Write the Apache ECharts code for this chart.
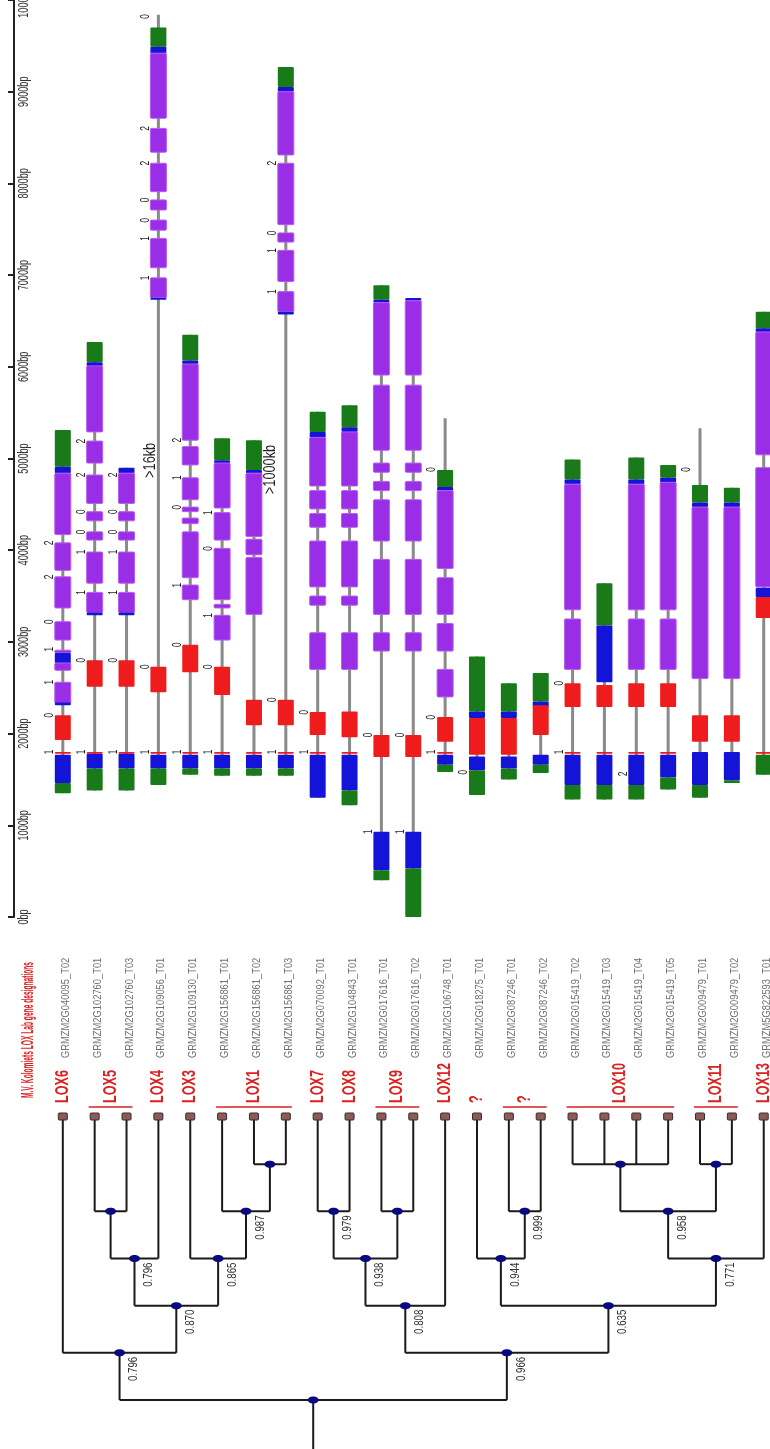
<!DOCTYPE html>
<html><head><meta charset="utf-8">
<script src="https://cdn.jsdelivr.net/npm/echarts@6/dist/echarts.min.js"></script>
<style>html,body{margin:0;padding:0;background:#fff}#c{width:770px;height:1449px}</style>
</head><body><div id="c"></div>
<script>
// Transcript order (left to right), shared by the gene models and the tree leaves
const transcripts = [
  'GRMZM2G040095_T02','GRMZM2G102760_T01','GRMZM2G102760_T03','GRMZM2G109056_T01',
  'GRMZM2G109130_T01','GRMZM2G156861_T01','GRMZM2G156861_T02','GRMZM2G156861_T03',
  'GRMZM2G070092_T01','GRMZM2G104843_T01','GRMZM2G017616_T01','GRMZM2G017616_T02',
  'GRMZM2G106748_T01','GRMZM2G018275_T01','GRMZM2G087246_T01','GRMZM2G087246_T02',
  'GRMZM2G015419_T02','GRMZM2G015419_T03','GRMZM2G015419_T04','GRMZM2G015419_T05',
  'GRMZM2G009479_T01','GRMZM2G009479_T02','GRMZM5G822593_T01'
];
// LOX designations: [label, first transcript, last transcript]
const loxGroups = [
  ['LOX6',0,0],['LOX5',1,2],['LOX4',3,3],['LOX3',4,4],['LOX1',5,7],['LOX7',8,8],['LOX8',9,9],
  ['LOX9',10,11],['LOX12',12,12],['?',13,13],['?',14,15],['LOX10',16,19],['LOX11',20,21],['LOX13',22,22]
];
// Gene span in bp: [transcript, start, end]
const spans = [
  [0,1350,5310],[1,1380,6270],[2,1380,4900],[3,1440,9840],[4,1550,6350],[5,1540,5220],[6,1540,5200],
  [7,1540,9270],[8,1300,5510],[9,1220,5580],[10,400,6890],[11,0,6750],[12,1580,5440],[13,1330,2840],
  [14,1500,2550],[15,1570,2660],[16,1280,4990],[17,1280,3640],[18,1280,5010],[19,1390,4930],
  [20,1300,5330],[21,1460,4680],[22,1550,6600]
];
// Exon blocks: [transcript, start bp, end bp, kind]  U = UTR, B = blue segment, C = coding exon, R = red exon
const exons = [
  [0,4910,5310,'U'],[0,4840,4910,'B'],[0,4170,4840,'C'],[0,3780,4080,'C'],[0,3370,3710,'C'],[0,3020,3220,'C'],
  [0,2880,2910,'C'],[0,2770,2880,'B'],[0,2690,2770,'C'],[0,2330,2560,'C'],[0,2310,2340,'B'],[0,1930,2200,'R'],
  [0,1780,1800,'R'],[0,1460,1770,'B'],[0,1350,1460,'U'],
  [1,6050,6270,'U'],[1,6010,6050,'B'],[1,5290,6010,'C'],[1,4950,5190,'C'],[1,4510,4820,'C'],
  [1,4320,4420,'C'],[1,4110,4200,'C'],[1,3640,3980,'C'],[1,3320,3540,'C'],[1,3290,3320,'B'],[1,2510,2800,'R'],
  [1,1780,1800,'R'],[1,1620,1780,'B'],[1,1380,1620,'U'],
  [2,4840,4900,'B'],[2,4510,4840,'C'],[2,4320,4420,'C'],[2,4110,4200,'C'],[2,3640,3980,'C'],[2,3320,3540,'C'],
  [2,3290,3320,'B'],[2,2510,2800,'R'],[2,1780,1800,'R'],[2,1620,1780,'B'],[2,1380,1620,'U'],
  [3,9490,9700,'U'],[3,9420,9490,'B'],[3,8710,9420,'C'],[3,8340,8600,'C'],[3,7910,8220,'C'],[3,7710,7820,'C'],
  [3,7490,7600,'C'],[3,7080,7400,'C'],[3,6750,6970,'C'],[3,6730,6750,'B'],[3,2450,2730,'R'],[3,1780,1800,'R'],
  [3,1620,1770,'B'],[3,1440,1620,'U'],
  [4,6070,6350,'U'],[4,6030,6070,'B'],[4,5200,6030,'C'],[4,4930,5130,'C'],[4,4550,4790,'C'],[4,4420,4470,'C'],
  [4,4290,4350,'C'],[4,3700,4200,'C'],[4,3460,3620,'C'],[4,2670,2970,'R'],[4,1780,1800,'R'],[4,1620,1770,'B'],
  [4,1550,1620,'U'],
  [5,4980,5220,'U'],[5,4950,4980,'B'],[5,4460,4950,'C'],[5,4110,4410,'C'],[5,3460,4020,'C'],[5,3370,3410,'C'],
  [5,3020,3290,'C'],[5,2420,2730,'R'],[5,1780,1800,'R'],[5,1620,1770,'B'],[5,1540,1620,'U'],
  [6,4875,5200,'U'],[6,4840,4875,'B'],[6,4150,4840,'C'],[6,3950,4120,'C'],[6,3300,3920,'C'],[6,2090,2370,'R'],
  [6,1780,1800,'R'],[6,1620,1770,'B'],[6,1540,1620,'U'],
  [7,9050,9270,'U'],[7,9000,9050,'B'],[7,8310,9000,'C'],[7,7550,8220,'C'],[7,7360,7460,'C'],[7,6930,7270,'C'],
  [7,6600,6820,'C'],[7,6570,6600,'B'],[7,2090,2370,'R'],[7,1780,1800,'R'],[7,1620,1770,'B'],[7,1540,1620,'U'],
  [8,5290,5510,'U'],[8,5230,5290,'B'],[8,4700,5230,'C'],[8,4450,4650,'C'],[8,4250,4400,'C'],[8,3600,4100,'C'],
  [8,3400,3500,'C'],[8,2700,3100,'C'],[8,1985,2235,'R'],[8,1780,1800,'R'],[8,1300,1770,'B'],
  [9,5340,5580,'U'],[9,5290,5340,'B'],[9,4700,5290,'C'],[9,4450,4650,'C'],[9,4250,4400,'C'],[9,3600,4100,'C'],
  [9,3400,3500,'C'],[9,2700,3100,'C'],[9,1960,2240,'R'],[9,1780,1800,'R'],[9,1380,1770,'B'],[9,1220,1380,'U'],
  [10,6730,6890,'U'],[10,6700,6730,'B'],[10,5910,6700,'C'],[10,5090,5800,'C'],[10,4850,4950,'C'],[10,4650,4750,'C'],
  [10,4100,4550,'C'],[10,3300,3900,'C'],[10,2900,3100,'C'],[10,1745,1985,'R'],[10,510,930,'B'],[10,400,510,'U'],
  [11,6720,6750,'B'],[11,5910,6720,'C'],[11,5090,5800,'C'],[11,4850,4950,'C'],[11,4650,4750,'C'],
  [11,4100,4550,'C'],[11,3300,3900,'C'],[11,2900,3100,'C'],[11,1745,1985,'R'],[11,530,930,'B'],[11,0,530,'U'],
  [12,4690,4875,'U'],[12,4650,4690,'B'],[12,3800,4650,'C'],[12,3300,3700,'C'],[12,2900,3200,'C'],[12,2400,2700,'C'],
  [12,1910,2180,'R'],[12,1780,1800,'R'],[12,1660,1770,'B'],[12,1580,1660,'U'],
  [13,2240,2840,'U'],[13,2170,2240,'B'],[13,1770,2170,'R'],[13,1600,1750,'B'],[13,1330,1600,'U'],
  [14,2240,2550,'U'],[14,2170,2240,'B'],[14,1770,2170,'R'],[14,1620,1750,'B'],[14,1500,1620,'U'],
  [15,2350,2660,'U'],[15,2290,2350,'B'],[15,1985,2310,'R'],[15,1660,1770,'B'],[15,1570,1660,'U'],
  [16,4770,4990,'U'],[16,4720,4770,'B'],[16,3350,4720,'C'],[16,2700,3250,'C'],[16,2290,2550,'R'],[16,1780,1800,'R'],
  [16,1440,1770,'B'],[16,1280,1440,'U'],
  [17,3180,3640,'U'],[17,2560,3180,'B'],[17,2290,2530,'R'],[17,1780,1800,'R'],[17,1440,1770,'B'],[17,1280,1440,'U'],
  [18,4770,5010,'U'],[18,4720,4770,'B'],[18,3350,4720,'C'],[18,2700,3250,'C'],[18,2290,2550,'R'],[18,1780,1800,'R'],
  [18,1440,1770,'B'],[18,1280,1440,'U'],
  [19,4790,4930,'U'],[19,4740,4790,'B'],[19,3350,4740,'C'],[19,2700,3250,'C'],[19,2290,2550,'R'],[19,1780,1800,'R'],
  [19,1520,1770,'B'],[19,1390,1520,'U'],
  [20,4520,4710,'U'],[20,4470,4520,'B'],[20,2600,4470,'C'],[20,1910,2200,'R'],[20,1440,1800,'B'],[20,1300,1440,'U'],
  [21,4520,4680,'U'],[21,4470,4520,'B'],[21,2600,4470,'C'],[21,1910,2200,'R'],[21,1490,1800,'B'],[21,1460,1490,'U'],
  [22,6420,6600,'U'],[22,6380,6420,'B'],[22,5040,6380,'C'],[22,3600,4900,'C'],[22,3490,3590,'B'],[22,3260,3490,'R'],
  [22,1780,1800,'R'],[22,1550,1770,'U']
];
// Intron phase marks: [transcript, bp, phase]
const phases = [
  [0,4080,'2'],[0,3710,'2'],[0,3220,'0'],[0,2920,'1'],[0,2560,'1'],[0,2200,'0'],[0,1800,'1'],
  [1,5190,'2'],[1,4820,'2'],[1,4420,'0'],[1,4200,'0'],[1,3980,'1'],[1,3540,'1'],[1,2800,'0'],[1,1800,'1'],
  [2,4820,'2'],[2,4420,'0'],[2,4200,'0'],[2,3980,'1'],[2,3540,'1'],[2,2800,'0'],[2,1800,'1'],
  [3,9820,'0'],[3,8600,'2'],[3,8220,'2'],[3,7820,'0'],[3,7600,'0'],[3,7400,'1'],[3,6970,'1'],[3,2730,'0'],[3,1800,'1'],
  [4,5200,'2'],[4,4790,'1'],[4,4470,'0'],[4,3620,'1'],[4,2970,'0'],[4,1800,'1'],
  [5,4410,'1'],[5,4020,'0'],[5,3290,'1'],[5,2730,'0'],[5,1800,'1'],
  [7,8220,'2'],[7,7460,'0'],[7,7270,'1'],[7,6820,'1'],[7,2370,'0'],[7,1800,'1'],
  [8,2235,'0'],[8,1800,'1'],[10,1985,'0'],[10,930,'1'],[11,1985,'0'],[11,930,'1'],
  [12,4880,'0'],[12,2180,'0'],[12,1800,'1'],[13,1580,'0'],[16,2550,'0'],[16,1800,'1'],[18,1560,'2'],[20,4880,'0']
];
// Gap annotations for long introns: [x position in transcript units, bp, text]
const gapNotes = [[2.74,4980,'>16kb'],[6.5,4880,'>1000kb']];
// Y axis ticks
const yMin = 0, yMax = 10000, yStep = 1000;
const yTicks = [0,1000,2000,3000,4000,5000,6000,7000,8000,9000,10000];
// Tree: [children, level, bootstrap]  leaves are 0..22, clade k is referenced as 100+k
const clades = [
  [[6,7],1,null],          // 100
  [[1,2],2,null],          // 101
  [[5,100],2,'0.987'],     // 102
  [[101,3],3,'0.796'],     // 103
  [[4,102],3,'0.865'],     // 104
  [[103,104],4,'0.870'],   // 105
  [[0,105],5,'0.796'],     // 106
  [[8,9],2,'0.979'],       // 107
  [[10,11],2,null],        // 108
  [[107,108],3,'0.938'],   // 109
  [[109,12],4,'0.808'],    // 110
  [[14,15],2,'0.999'],     // 111
  [[13,111],3,'0.944'],    // 112
  [[16,17,18,19],1,null],  // 113
  [[20,21],1,null],        // 114
  [[113,114],2,'0.958'],   // 115
  [[115,22],3,'0.771'],    // 116
  [[112,116],4,'0.635'],   // 117
  [[110,117],5,'0.966'],   // 118
  [[106,118],6,null]       // 119 root
];
const title = 'M.V. Kolomiets LOX Lab gene designations';

const kindColor = {U:'#197a19', B:'#1414d8', C:'#9a2ee6', R:'#ee1c1c'};
const xMin = -1.532, xMax = 22.197;

// tree layout from the clade table
const nodePos = {};
transcripts.forEach((t,i)=>{ nodePos[i] = [i,0]; });
clades.forEach((c,k)=>{
  const xs = c[0].map(ch=>nodePos[ch][0]);
  nodePos[100+k] = [(Math.min(...xs)+Math.max(...xs))/2, c[1]];
});
const treeSegs = [];
clades.forEach((c,k)=>{
  const p = nodePos[100+k];
  const xs = c[0].map(ch=>nodePos[ch][0]);
  treeSegs.push([Math.min(...xs),p[1],Math.max(...xs),p[1]]);
  c[0].forEach(ch=>{ const q=nodePos[ch]; treeSegs.push([q[0],q[1],q[0],p[1]]); });
});
const rootPos = nodePos[100+clades.length-1];
treeSegs.push([rootPos[0],rootPos[1],rootPos[0],7.1]);
const nodeList = clades.map((c,k)=>[nodePos[100+k][0],nodePos[100+k][1],c[2]||'']);

const chart = echarts.init(document.getElementById('c'), null, {renderer:'canvas'});
const R90 = Math.PI/2;
const narrow = 'Liberation Sans, Arial, sans-serif';

chart.setOption({
  animation:false,
  backgroundColor:'#fff',
  grid:[
    {left:14, top:0, width:756, height:917},
    {left:14, top:1117, width:756, height:332}
  ],
  xAxis:[
    {gridIndex:0, type:'value', min:xMin, max:xMax, show:false},
    {gridIndex:1, type:'value', min:xMin, max:xMax, show:false}
  ],
  yAxis:[
    {gridIndex:0, type:'value', min:yMin, max:yMax, interval:yStep,
     axisLine:{show:true, onZero:false, lineStyle:{color:'#222', width:2}},
     axisTick:{show:true, inside:false, length:6, lineStyle:{color:'#222', width:2}},
     splitLine:{show:false}, axisLabel:{show:false}},
    {gridIndex:1, type:'value', min:0, max:7.04, inverse:true, show:false}
  ],
  series:[
    { // tick labels, written along the axis
      type:'custom', xAxisIndex:0, yAxisIndex:0, clip:false, data:yTicks.map(v=>[xMin,v]),
      renderItem:(p,api)=>{
        const c=api.coord([api.value(0),api.value(1)]);
        return {type:'text', x:c[0]+10, y:c[1], rotation:R90, scaleX:0.65,
          style:{text:yTicks[p.dataIndex]+'bp', fill:'#333', font:'14px '+narrow, align:'center', verticalAlign:'middle'}};
      }
    },
    { // gene spans
      type:'custom', xAxisIndex:0, yAxisIndex:0, clip:false, data:spans,
      renderItem:(p,api)=>{
        const a=api.coord([api.value(0),api.value(1)]), b=api.coord([api.value(0),api.value(2)]);
        return {type:'line', shape:{x1:a[0],y1:a[1],x2:b[0],y2:b[1]}, style:{stroke:'#8a8a8a', lineWidth:3}};
      }
    },
    { // exons
      type:'custom', xAxisIndex:0, yAxisIndex:0, clip:false, data:exons,
      renderItem:(p,api)=>{
        const i=api.value(0), a=api.coord([i,api.value(1)]), b=api.coord([i,api.value(2)]);
        const k=exons[p.dataIndex][3];
        return {type:'rect', shape:{x:a[0]-8, y:b[1], width:16, height:Math.max(1.5,a[1]-b[1]), r:1},
          style:{fill:kindColor[k], stroke: k==='C'?'#b45cf0':null, lineWidth:1}};
      }
    },
    { // phase marks
      type:'custom', xAxisIndex:0, yAxisIndex:0, clip:false, data:phases,
      renderItem:(p,api)=>{
        const c=api.coord([api.value(0),api.value(1)]);
        return {type:'text', x:c[0]-13, y:c[1], rotation:R90, scaleX:0.7,
          style:{text:phases[p.dataIndex][2], fill:'#222', font:'12px '+narrow, align:'center', verticalAlign:'middle'}};
      }
    },
    { // long-intron notes
      type:'custom', xAxisIndex:0, yAxisIndex:0, clip:false, data:gapNotes,
      renderItem:(p,api)=>{
        const c=api.coord([api.value(0),api.value(1)]);
        return {type:'text', x:c[0], y:c[1], rotation:R90, scaleX:0.75,
          style:{text:gapNotes[p.dataIndex][2], fill:'#222', font:'17px '+narrow, align:'center', verticalAlign:'middle'}};
      }
    },
    { // tree branches
      type:'custom', xAxisIndex:1, yAxisIndex:1, clip:false, data:treeSegs,
      renderItem:(p,api)=>{
        const a=api.coord([api.value(0),api.value(1)]), b=api.coord([api.value(2),api.value(3)]);
        return {type:'line', shape:{x1:a[0],y1:a[1],x2:b[0],y2:b[1]}, style:{stroke:'#1a1a1a', lineWidth:2}};
      }
    },
    { // internal nodes + bootstrap values
      type:'custom', xAxisIndex:1, yAxisIndex:1, clip:false, data:nodeList,
      renderItem:(p,api)=>{
        const c=api.coord([api.value(0),api.value(1)]);
        const s=nodeList[p.dataIndex][2];
        const kids=[{type:'ellipse', shape:{cx:c[0],cy:c[1],rx:5.5,ry:3.5}, style:{fill:'#0a0a80'}}];
        if(s) kids.push({type:'text', x:c[0]+14, y:c[1]+4, rotation:R90, scaleX:0.72,
          style:{text:s, fill:'#333', font:'13.5px '+narrow, align:'right', verticalAlign:'middle'}});
        return {type:'group', children:kids};
      }
    },
    { // leaves and transcript names
      type:'custom', xAxisIndex:1, yAxisIndex:1, clip:false, data:transcripts.map((t,i)=>[i,0]),
      renderItem:(p,api)=>{
        const c=api.coord([api.value(0),api.value(1)]);
        return {type:'group', children:[
          {type:'rect', shape:{x:c[0]-4.5,y:c[1]-4,width:9,height:7,r:1}, style:{fill:'#8c5a5a', stroke:'#3a2a2a', lineWidth:1}},
          {type:'text', x:c[0]+3, y:c[1]-59, rotation:R90, scaleX:0.85,
            style:{text:transcripts[p.dataIndex], fill:'#707070', font:'11px '+narrow, align:'left', verticalAlign:'middle'}}
        ]};
      }
    },
    { // LOX designations
      type:'custom', xAxisIndex:1, yAxisIndex:1, clip:false, data:loxGroups.map(g=>[g[1],g[2]]),
      renderItem:(p,api)=>{
        const a=api.coord([api.value(0),0]), b=api.coord([api.value(1),0]);
        const g=loxGroups[p.dataIndex];
        const mid=(a[0]+b[0])/2;
        const kids=[{type:'text', x:mid, y:a[1]-14, rotation:R90, scaleX:0.7,
          style:{text:g[0], fill:'#dd2020', font:'bold 18px '+narrow, align:'left', verticalAlign:'middle'}}];
        if(g[2]>g[1]) kids.push({type:'line', shape:{x1:a[0]-6,y1:a[1]-10,x2:b[0]+6,y2:b[1]-10}, style:{stroke:'#dd2020', lineWidth:1.5}});
        return {type:'group', children:kids};
      }
    }
  ],
  graphic:[
    {type:'text', x:28, y:1098, rotation:R90, scaleX:0.39,
     style:{text:title, fill:'#dd2020', font:'bold 17px '+narrow, align:'left', verticalAlign:'middle'}}
  ]
});
</script></body></html>
